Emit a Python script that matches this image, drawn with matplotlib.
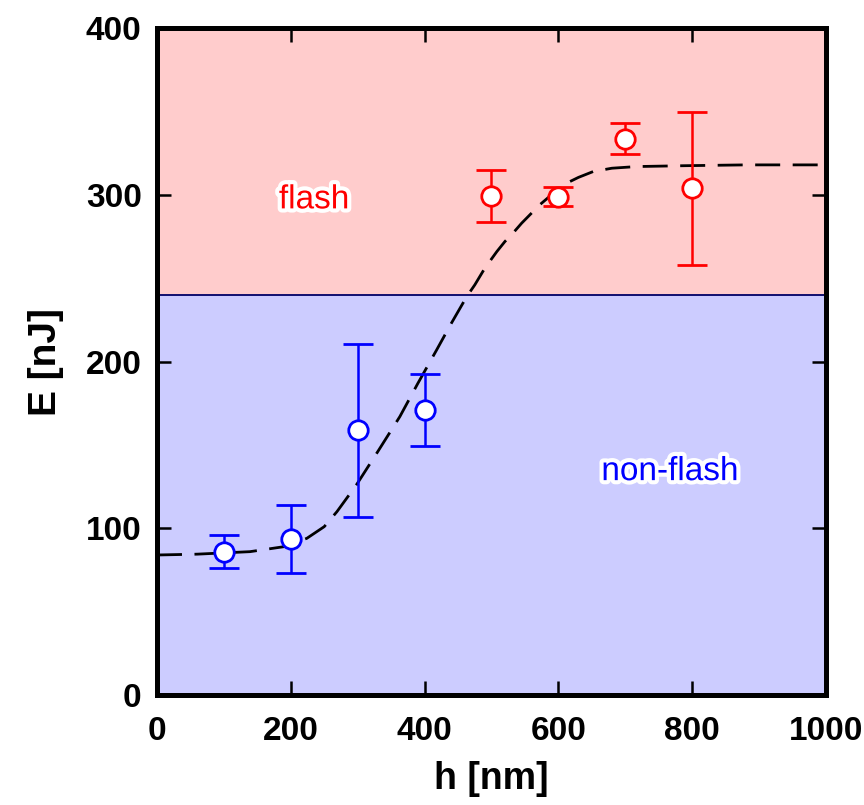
import matplotlib
matplotlib.use("Agg")
import matplotlib.pyplot as plt
import matplotlib.patheffects as pe
from matplotlib import font_manager

names = {f.name for f in font_manager.fontManager.ttflist}
narrow = "Liberation Sans Narrow" if "Liberation Sans Narrow" in names else "Liberation Sans"

# data
h_nonflash = [100, 200, 300, 400]
E_nonflash = [86, 93.5, 159, 171]
lo_nonflash = [10, 20.5, 52, 21.5]
hi_nonflash = [10, 20.5, 51.5, 21.5]

h_flash = [500, 600, 700, 800]
E_flash = [299.5, 299, 333.6, 304]
lo_flash = [15.5, 5.5, 9.2, 46]
hi_flash = [15.5, 6, 9.4, 46]

curve_h = [0, 60, 139, 190, 224, 250, 269, 298, 330, 363, 390, 418, 440, 463, 475,
           490, 508, 520, 532, 545, 572, 607, 630, 652, 680, 717, 787, 880, 1000]
curve_E = [84, 84.5, 86, 89, 94, 101, 110, 126, 146, 167, 187, 207, 223, 239, 246,
           256, 266, 272, 277, 283, 294, 306, 310.5, 314, 316, 317, 317.5, 318, 318]

threshold = 240

fig = plt.figure(figsize=(8.64, 8.05), dpi=100)
ax = fig.add_axes([0.1817, 0.1366, 0.956 - 0.1817, 0.965 - 0.1366])

ax.axhspan(0, threshold, color="#CCCCFF", zorder=0, lw=0)
ax.axhspan(threshold, 400, color="#FFCCCC", zorder=0, lw=0)
ax.axhline(threshold, color="#000066", lw=1.3, zorder=1)

ax.plot(curve_h, curve_E, color="black", lw=2.0, dashes=(9, 4.5), zorder=3)

ax.errorbar(h_nonflash, E_nonflash, yerr=[lo_nonflash, hi_nonflash], fmt="o",
            color="#0000FF", mfc="white", mec="#0000FF", mew=2.0, ms=14,
            elinewidth=1.8, capsize=11, capthick=1.8, zorder=4)
ax.errorbar(h_flash, E_flash, yerr=[lo_flash, hi_flash], fmt="o",
            color="#FF0000", mfc="white", mec="#FF0000", mew=2.0, ms=14,
            elinewidth=1.8, capsize=11, capthick=1.8, zorder=4)

stroke = [pe.withStroke(linewidth=6, foreground="white")]
ax.text(235, 297, "flash", color="#FF0000", fontsize=24, family="Liberation Sans",
        ha="center", va="center", path_effects=stroke, zorder=5)
ax.text(767, 134, "non-flash", color="#0000FF", fontsize=24, family="Liberation Sans",
        ha="center", va="center", path_effects=stroke, zorder=5)

ax.set_xlim(0, 1000)
ax.set_ylim(0, 400)
ax.set_xticks([0, 200, 400, 600, 800, 1000])
ax.set_yticks([0, 100, 200, 300, 400])
ax.tick_params(direction="in", length=10, width=1.8, top=True, right=True,
               labelsize=24)
ax.tick_params(axis="x", pad=15)
ax.tick_params(axis="y", pad=11)
for lab in ax.get_xticklabels() + ax.get_yticklabels():
    lab.set_family(narrow)
    lab.set_fontweight("bold")
for s in ax.spines.values():
    s.set_linewidth(3.6)

ax.set_xlabel("h [nm]", fontsize=27, fontweight="bold", family=narrow, labelpad=10)
ax.set_ylabel("E [nJ]", fontsize=28, fontweight="bold", family=narrow, labelpad=16)

fig.savefig("out.png", dpi=100)
